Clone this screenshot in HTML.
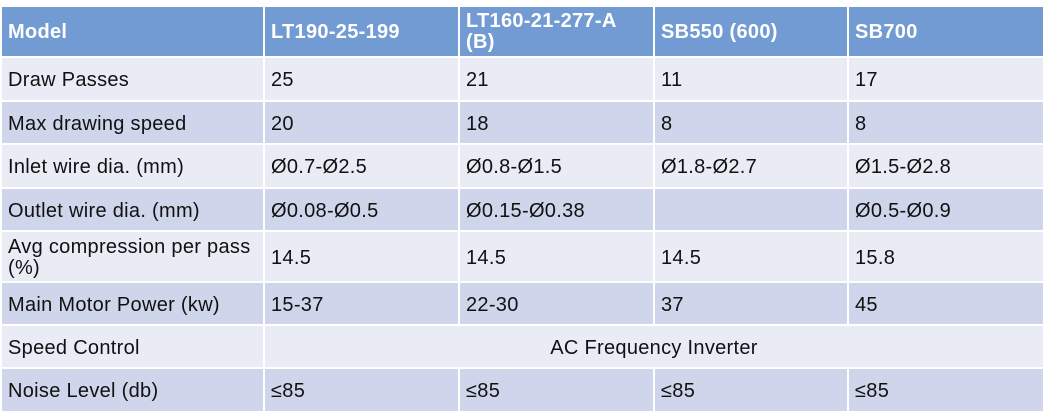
<!DOCTYPE html>
<html><head><meta charset="utf-8"><style>
body{margin:0;width:1045px;height:416px;background:#fff;position:relative;overflow:hidden;font-family:"Liberation Sans","Noto Sans CJK KR",sans-serif;}
.c{position:absolute;box-sizing:border-box;padding-left:6px;padding-top:3px;display:flex;align-items:center;font-size:20px;color:#111;letter-spacing:0.3px;line-height:21px;}
.h{background:#729bd3;color:#fff;font-weight:bold;padding-top:1px;}
.l{background:#e9ebf5;}
.d{background:#cfd5ea;}
</style></head><body>
<div id="t"></div>
<script>
var xs=[2,265,460,655,849,1043];
var ys=[[7,56],[58,100],[102,143],[145,187],[189,230],[232,281],[283,324],[326,367],[369,411]];
var data=[
["Model","LT190-25-199","LT160-21-277-A<br>(B)","SB550 (600)","SB700"],
["Draw Passes","25","21","11","17"],
["Max drawing speed","20","18","8","8"],
["Inlet wire dia. (mm)","Ø0.7-Ø2.5","Ø0.8-Ø1.5","Ø1.8-Ø2.7","Ø1.5-Ø2.8"],
["Outlet wire dia. (mm)","Ø0.08-Ø0.5","Ø0.15-Ø0.38","","Ø0.5-Ø0.9"],
["Avg compression per pass<br>(%)","14.5","14.5","14.5","15.8"],
["Main Motor Power (kw)","15-37","22-30","37","45"],
["Speed Control",null],
["Noise Level (db)","≤85","≤85","≤85","≤85"]];
var h="";
for(var r=0;r<9;r++){var cls=r==0?"h":(r%2?"l":"d");var y=ys[r][0],hh=ys[r][1]-ys[r][0];
 if(data[r][1]===null){
  h+='<div class="c '+cls+'" style="left:'+xs[0]+'px;top:'+y+'px;width:'+(xs[1]-2-xs[0])+'px;height:'+hh+'px">'+data[r][0]+'</div>';
  h+='<div class="c '+cls+'" style="left:'+xs[1]+'px;top:'+y+'px;width:'+(xs[5]-xs[1])+'px;height:'+hh+'px;justify-content:center;padding-left:0">AC Frequency Inverter</div>';
  continue;}
 for(var c=0;c<5;c++){var w=xs[c+1]-xs[c]-(c<4?2:0);
  h+='<div class="c '+cls+'" style="left:'+xs[c]+'px;top:'+y+'px;width:'+w+'px;height:'+hh+'px">'+data[r][c]+'</div>';}
}
document.getElementById("t").innerHTML=h;
</script>
</body></html>
